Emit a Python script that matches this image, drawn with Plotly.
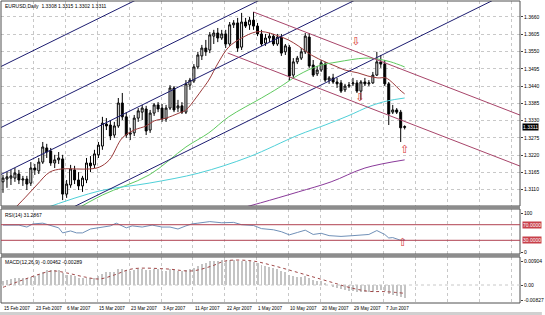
import plotly.graph_objects as go

# ---------------- data ----------------
bars = list(range(102))
opens = [1.3135,1.3144,1.3147,1.3147,1.3160,1.3141,1.3144,1.3131,1.3179,1.3170,
         1.3198,1.3243,1.3233,1.3195,1.3205,1.3208,1.3096,1.3125,1.3173,1.3141,
         1.3122,1.3141,1.3195,1.3189,1.3221,1.3249,1.3319,1.3316,1.3284,1.3313,
         1.3386,1.3342,1.3287,1.3291,1.3338,1.3357,1.3367,1.3300,1.3354,1.3380,
         1.3370,1.3335,1.3370,1.3434,1.3370,1.3377,1.3357,1.3443,1.3456,1.3501,
         1.3536,1.3561,1.3555,1.3599,1.3609,1.3593,1.3606,1.3574,1.3635,1.3641,
         1.3564,1.3644,1.3635,1.3650,1.3631,1.3606,1.3577,1.3593,1.3599,1.3574,
         1.3596,1.3549,1.3564,1.3475,1.3517,1.3529,1.3549,1.3596,1.3507,1.3479,
         1.3491,1.3510,1.3459,1.3466,1.3453,1.3450,1.3428,1.3440,1.3447,1.3450,
         1.3424,1.3453,1.3447,1.3450,1.3475,1.3517,1.3510,1.3447,1.3357,1.3364,
         1.3357,1.3308]
highs = [1.3157,1.3166,1.3173,1.3179,1.3173,1.3154,1.3154,1.3198,1.3192,1.3211,
         1.3262,1.3256,1.3243,1.3221,1.3230,1.3221,1.3141,1.3189,1.3186,1.3166,
         1.3154,1.3211,1.3217,1.3237,1.3262,1.3342,1.3338,1.3332,1.3326,1.3402,
         1.3418,1.3357,1.3307,1.3348,1.3370,1.3380,1.3377,1.3364,1.3386,1.3389,
         1.3383,1.3380,1.3443,1.3440,1.3396,1.3389,1.3459,1.3466,1.3510,1.3549,
         1.3571,1.3587,1.3612,1.3619,1.3625,1.3619,1.3619,1.3644,1.3650,1.3657,
         1.3673,1.3657,1.3660,1.3676,1.3641,1.3619,1.3606,1.3609,1.3606,1.3606,
         1.3606,1.3574,1.3571,1.3529,1.3536,1.3561,1.3609,1.3609,1.3523,1.3504,
         1.3523,1.3517,1.3472,1.3479,1.3466,1.3459,1.3447,1.3453,1.3466,1.3459,
         1.3459,1.3466,1.3459,1.3485,1.3549,1.3539,1.3523,1.3453,1.3380,1.3370,
         1.3364,1.3315]
lows = [1.3100,1.3116,1.3125,1.3135,1.3128,1.3122,1.3109,1.3122,1.3157,1.3160,
        1.3192,1.3211,1.3186,1.3179,1.3192,1.3077,1.3084,1.3116,1.3128,1.3109,
        1.3103,1.3131,1.3166,1.3179,1.3211,1.3237,1.3300,1.3268,1.3275,1.3307,
        1.3332,1.3275,1.3268,1.3281,1.3326,1.3332,1.3284,1.3291,1.3345,1.3357,
        1.3326,1.3326,1.3364,1.3357,1.3357,1.3351,1.3351,1.3428,1.3450,1.3494,
        1.3523,1.3536,1.3545,1.3574,1.3580,1.3587,1.3561,1.3568,1.3625,1.3549,
        1.3555,1.3625,1.3619,1.3619,1.3599,1.3568,1.3568,1.3580,1.3568,1.3568,
        1.3536,1.3539,1.3459,1.3466,1.3510,1.3523,1.3542,1.3498,1.3469,1.3472,
        1.3485,1.3453,1.3447,1.3447,1.3434,1.3418,1.3421,1.3434,1.3440,1.3418,
        1.3396,1.3440,1.3440,1.3447,1.3472,1.3498,1.3440,1.3316,1.3351,1.3351,
        1.3262,1.3302]
closes = [1.3147,1.3151,1.3154,1.3163,1.3141,1.3144,1.3128,1.3179,1.3173,1.3198,
          1.3246,1.3230,1.3195,1.3205,1.3211,1.3096,1.3128,1.3176,1.3141,1.3122,
          1.3147,1.3195,1.3186,1.3224,1.3252,1.3322,1.3313,1.3281,1.3313,1.3386,
          1.3342,1.3284,1.3291,1.3338,1.3361,1.3370,1.3297,1.3354,1.3380,1.3367,
          1.3335,1.3370,1.3434,1.3364,1.3377,1.3357,1.3447,1.3459,1.3501,1.3539,
          1.3561,1.3549,1.3603,1.3609,1.3593,1.3606,1.3574,1.3635,1.3641,1.3561,
          1.3644,1.3631,1.3650,1.3631,1.3606,1.3574,1.3593,1.3599,1.3574,1.3596,
          1.3545,1.3568,1.3472,1.3517,1.3529,1.3549,1.3599,1.3504,1.3475,1.3491,
          1.3514,1.3459,1.3466,1.3453,1.3447,1.3424,1.3440,1.3443,1.3450,1.3424,
          1.3453,1.3447,1.3450,1.3475,1.3517,1.3510,1.3447,1.3351,1.3364,1.3357,
          1.3307,1.3311]

date_ticks = [0, 8, 16, 24, 32, 40, 48, 56, 64, 72, 80, 88, 96]
date_labels = ["15 Feb 2007", "23 Feb 2007", "6 Mar 2007", "15 Mar 2007", "23 Mar 2007",
               "3 Apr 2007", "11 Apr 2007", "22 Apr 2007", "1 May 2007", "10 May 2007",
               "20 May 2007", "29 May 2007", "7 Jun 2007"]
grid_extra = [104, 112, 120, 128]
price_ticks = [1.3660, 1.3605, 1.3550, 1.3495, 1.3440, 1.3385, 1.3330, 1.3275,
               1.3220, 1.3165, 1.3110]
price_low_label = 1.3055
last_price = 1.3311

# moving averages (bar, price)
ma_red_x = [2.5, 5.5, 8.5, 11.75, 14.75, 18.5, 21.75, 24.25, 26.75, 30, 33, 36, 38, 41,
            44.25, 46, 48.5, 50, 51.75, 54.25, 56.75, 60, 63.5, 66, 68.5, 71.75, 74.25,
            77.5, 81, 83.5, 86, 89.25, 91.75, 94.25, 96.25, 98, 99.75, 101]
ma_red_y = [1.3045, 1.3084, 1.3125, 1.3166, 1.3176, 1.3176, 1.3176, 1.3182, 1.3205, 1.3275,
            1.3300, 1.3313, 1.3329, 1.3338, 1.3354, 1.3364, 1.3402, 1.3428, 1.3459, 1.3517,
            1.3564, 1.3593, 1.3612, 1.3612, 1.3603, 1.3587, 1.3568, 1.3539, 1.3517, 1.3504,
            1.3491, 1.3482, 1.3472, 1.3466, 1.3466, 1.3450, 1.3428, 1.3415]
ma_green_x = [17.25, 25, 36.75, 46, 51.75, 56.75, 65, 69.25, 74.25, 79.25, 84.25, 91, 94.25, 97.5, 101]
ma_green_y = [1.3039, 1.3093, 1.3157, 1.3246, 1.3291, 1.3342, 1.3402, 1.3434, 1.3475, 1.3504,
              1.3517, 1.3529, 1.3526, 1.3517, 1.3501]
ma_cyan_x = [9.25, 24.25, 36.75, 49.25, 61.75, 74.25, 81, 86.75, 92.5, 96.75, 101]
ma_cyan_y = [1.3045, 1.3106, 1.3131, 1.3163, 1.3214, 1.3284, 1.3316, 1.3345, 1.3377, 1.3393, 1.3402]
ma_purple_x = [59.25, 64.75, 74.25, 82.5, 91, 101]
ma_purple_y = [1.3049, 1.3068, 1.3103, 1.3135, 1.3179, 1.3205]

# trend lines: [bar0, price0, bar1, price1]
navy_lines = [[-1, 1.34992, 40, 1.37550],
              [-1, 1.33049, 80, 1.38103],
              [-1, 1.31553, 110, 1.38479],
              [0, 1.29444, 131, 1.37618]]
red_lines = [[63, 1.36759, 131, 1.33427],
             [56.5, 1.35453, 131, 1.31803]]

arrows_down = [[88.75, 1.35804], [89.75, 1.34020]]
arrows_up = [[101, 1.32365]]

# RSI(14)
rsi_x = [0, 4, 6, 7.5, 10, 12, 14, 15, 17, 18.5, 20, 22, 24, 27, 28.5, 31, 32.5, 35, 37.5,
         40, 42, 44, 46, 47.5, 49, 52, 55, 58, 60, 63, 65, 68, 70, 72, 74, 76, 78, 80, 82,
         85, 88, 90, 92, 94, 96, 97, 98, 100, 101]
rsi_v = [69, 69, 64, 72, 74, 67, 62, 49, 54, 49, 49, 59, 62, 67, 74, 62, 67, 64, 69,
         64, 64, 59, 67, 72, 74, 78, 75, 76, 70, 68, 60, 57, 52, 44, 50, 56, 45, 48, 42,
         40, 42, 44, 45, 55, 45, 36, 37, 30, 31.2867]
rsi_arrow = [100.5, 23]

# MACD(12,26,9)
macd_main = [1.5,1.8,2.0,2.3,2.4,2.5,2.4,2.8,3.2,3.8,
             4.6,5.2,5.3,5.3,5.2,4.2,3.6,3.4,3.1,2.6,
             2.4,2.5,2.4,2.6,3.0,3.9,4.4,4.5,4.6,5.4,
             5.6,5.2,5.0,5.2,5.5,5.7,5.3,5.3,5.5,5.4,
             5.0,5.0,5.4,5.2,5.0,4.7,5.1,5.4,6.0,6.7,
             7.3,7.6,8.2,8.5,8.5,8.6,8.3,8.6,8.8,8.2,
             8.5,8.4,8.5,8.0,7.6,7.0,6.6,6.3,5.8,5.5,
             4.9,4.6,3.6,3.2,2.9,2.8,3.1,2.5,1.8,1.4,
             1.3,0.6,0.0,-0.5,-0.9,-1.5,-1.8,-2.0,-2.1,-2.5,
             -2.6,-2.6,-2.6,-2.3,-1.8,-1.6,-2.0,-3.0,-3.5,-3.8,
             -4.3,-4.62]  # x 0.001
macd_sig_x = [0, 4.25, 9.25, 12.5, 16, 20.5, 24.25, 28, 32.5, 41, 47.5, 52.5, 56, 62.5,
              67.5, 72.5, 77.5, 82.5, 87.5, 92, 96, 101]
macd_sig_v = [-0.8, 1.4, 3.8, 4.9, 4.2, 2.8, 2.1, 3.5, 5.6, 5.6, 4.9, 6.6, 8.4, 8.4,
              6.9, 5.0, 3.0, 1.0, -1.0, -2.2, -2.3, -2.89]  # x 0.001

# ---------------- figure ----------------
W, H = 545, 315
ML, MR, MT, MB = 1, 22, 1, 12
PH = H - MT - MB
def fy(px):
    return (H - MB - px) / PH

main_dom = [fy(206), 1.0]
rsi_dom = [fy(254), fy(209)]
macd_dom = [0.0, fy(257)]

FONT = "Liberation Sans"
FS = 5
FSD = 4.6

fig = go.Figure()

fig.add_trace(go.Candlestick(
    x=bars, open=opens, high=highs, low=lows, close=closes,
    increasing=dict(line=dict(color="black", width=1), fillcolor="white"),
    decreasing=dict(line=dict(color="black", width=1), fillcolor="black"),
    whiskerwidth=0, showlegend=False, hoverinfo="skip", xaxis="x", yaxis="y"))

for xs, ys, col in [(ma_red_x, ma_red_y, "#9b3b3b"), (ma_green_x, ma_green_y, "#5fc95f"),
                    (ma_cyan_x, ma_cyan_y, "#4fd0d8"), (ma_purple_x, ma_purple_y, "#8a3a9a")]:
    fig.add_trace(go.Scatter(x=xs, y=ys, mode="lines", line=dict(color=col, width=1, shape="spline"),
                             showlegend=False, hoverinfo="skip", xaxis="x", yaxis="y"))

for b0, p0, b1, p1 in navy_lines:
    fig.add_trace(go.Scatter(x=[b0, b1], y=[p0, p1], mode="lines", line=dict(color="#1c1c70", width=1),
                             showlegend=False, hoverinfo="skip", xaxis="x", yaxis="y"))
for b0, p0, b1, p1 in red_lines:
    fig.add_trace(go.Scatter(x=[b0, b1], y=[p0, p1], mode="lines", line=dict(color="#a8456a", width=1),
                             showlegend=False, hoverinfo="skip", xaxis="x", yaxis="y"))

arrow_font = dict(color="#d83030", size=11, family="DejaVu Sans")
fig.add_trace(go.Scatter(x=[a[0] for a in arrows_down], y=[a[1] for a in arrows_down], mode="text",
                         text=["⇩"] * len(arrows_down), textfont=arrow_font,
                         showlegend=False, hoverinfo="skip", xaxis="x", yaxis="y"))
fig.add_trace(go.Scatter(x=[a[0] for a in arrows_up], y=[a[1] for a in arrows_up], mode="text",
                         text=["⇧"] * len(arrows_up), textfont=arrow_font,
                         showlegend=False, hoverinfo="skip", xaxis="x", yaxis="y"))

# RSI
fig.add_trace(go.Scatter(x=rsi_x, y=rsi_v, mode="lines", line=dict(color="#7090b8", width=1),
                         showlegend=False, hoverinfo="skip", xaxis="x", yaxis="y2"))
fig.add_trace(go.Scatter(x=[rsi_arrow[0]], y=[rsi_arrow[1]], mode="text", text=["⇧"],
                         textfont=arrow_font,
                         showlegend=False, hoverinfo="skip", xaxis="x", yaxis="y2"))

# MACD
fig.add_trace(go.Bar(x=bars, y=[v / 1000 for v in macd_main], width=0.25,
                     marker=dict(color="#c4c4c4", line=dict(width=0)),
                     showlegend=False, hoverinfo="skip", xaxis="x", yaxis="y3"))
fig.add_trace(go.Scatter(x=macd_sig_x, y=[v / 1000 for v in macd_sig_v], mode="lines",
                         line=dict(color="#a04848", width=1, dash="dot", shape="spline"),
                         showlegend=False, hoverinfo="skip", xaxis="x", yaxis="y3"))

grid_col = "#c8c8c8"
tickfont = dict(family=FONT, size=FS, color="black")

fig.update_layout(
    width=W, height=H, margin=dict(l=ML, r=MR, t=MT, b=MB),
    paper_bgcolor="white", plot_bgcolor="white",
    font=dict(family=FONT, size=FS, color="black"),
    bargap=0,
    xaxis=dict(domain=[0, 1], range=[-0.5, 130], anchor="y3",
               tickvals=[b - 0.25 for b in date_ticks + grid_extra],
               showticklabels=False, ticks="",
               showgrid=True, gridcolor=grid_col, griddash="dot", gridwidth=1,
               zeroline=False, rangeslider=dict(visible=False), fixedrange=True),
    yaxis=dict(domain=main_dom, range=[1.30581, 1.37109], side="right",
               tickvals=price_ticks, ticktext=[f"{v:.4f}" for v in price_ticks],
               tickfont=tickfont, ticks="outside", ticklen=2, tickcolor="#404040",
               showgrid=True, gridcolor=grid_col, griddash="dot", zeroline=False),
    yaxis2=dict(domain=rsi_dom, range=[-5.1, 110.3], side="right",
                tickvals=[100, 0], ticktext=["100", "0"], tickfont=tickfont,
                ticks="outside", ticklen=2, tickcolor="#404040",
                showgrid=False, zeroline=False),
    yaxis3=dict(domain=macd_dom, range=[-0.00626, 0.00974], side="right",
                tickvals=[0.00835, 0.0, -0.00522], ticktext=["0.00904", "0.00", "-0.00827"],
                tickfont=tickfont, ticks="outside", ticklen=2, tickcolor="#404040",
                showgrid=False, zeroline=False),
)

shapes = []
for d in (main_dom, rsi_dom, macd_dom):
    shapes.append(dict(type="rect", xref="paper", yref="paper", x0=0, x1=1, y0=d[0], y1=d[1],
                       line=dict(color="#505050", width=1), fillcolor="rgba(0,0,0,0)", layer="above"))
shapes.append(dict(type="rect", xref="paper", yref="paper", x0=0, x1=1, y0=rsi_dom[1], y1=main_dom[0],
                   line=dict(width=0), fillcolor="#8c8c8c"))
shapes.append(dict(type="rect", xref="paper", yref="paper", x0=0, x1=1, y0=macd_dom[1], y1=rsi_dom[0],
                   line=dict(width=0), fillcolor="#8c8c8c"))
for lv in (70, 30):
    shapes.append(dict(type="line", xref="paper", yref="y2", x0=0, x1=1, y0=lv, y1=lv,
                       line=dict(color="#b04050", width=1)))
shapes.append(dict(type="line", xref="paper", yref="y3", x0=0, x1=1, y0=0, y1=0,
                   line=dict(color=grid_col, width=1, dash="dot")))
shapes.append(dict(type="rect", xref="paper", yref="paper", x0=-ML / (W - ML - MR), x1=1 + MR / (W - ML - MR),
                   y0=fy(312), y1=fy(315), line=dict(width=0), fillcolor="#d0d0d0"))
fig.update_layout(shapes=shapes)

datefont = dict(family=FONT, size=FSD, color="black")
ann = []
for b, lab in zip(date_ticks, date_labels):
    ann.append(dict(x=b - 0.3, y=fy(308), xref="x", yref="paper", text=lab, showarrow=False,
                    xanchor="left", yanchor="middle", font=datefont))
ann.append(dict(x=1, y=price_low_label, xref="paper", yref="y", text=f"{price_low_label:.4f}", showarrow=False,
                xanchor="left", yanchor="middle", xshift=3, font=tickfont))
ann.append(dict(x=1, y=last_price, xref="paper", yref="y", text=f"{last_price:.4f}", showarrow=False,
                xanchor="left", yanchor="middle", xshift=2, bgcolor="black", borderpad=0,
                font=dict(family=FONT, size=FS, color="white")))
for lv in (70, 30):
    ann.append(dict(x=1, y=lv, xref="paper", yref="y2", text=f"{lv:.4f}", showarrow=False,
                    xanchor="left", yanchor="middle", xshift=2, bgcolor="#c8404a", borderpad=0,
                    font=dict(family=FONT, size=FS, color="white")))
ann.append(dict(x=0.004, y=fy(6), xref="paper", yref="paper",
                text="EURUSD,Daily  1.3308 1.3315 1.3302 1.3311", showarrow=False,
                xanchor="left", yanchor="middle", font=tickfont))
ann.append(dict(x=0.004, y=fy(215), xref="paper", yref="paper", text="RSI(14) 31.2867", showarrow=False,
                xanchor="left", yanchor="middle", font=tickfont))
ann.append(dict(x=0.004, y=fy(262), xref="paper", yref="paper", text="MACD(12,26,9) -0.00462 -0.00289",
                showarrow=False, xanchor="left", yanchor="middle", font=tickfont))
fig.update_layout(annotations=ann)

fig.write_html("out.html")
